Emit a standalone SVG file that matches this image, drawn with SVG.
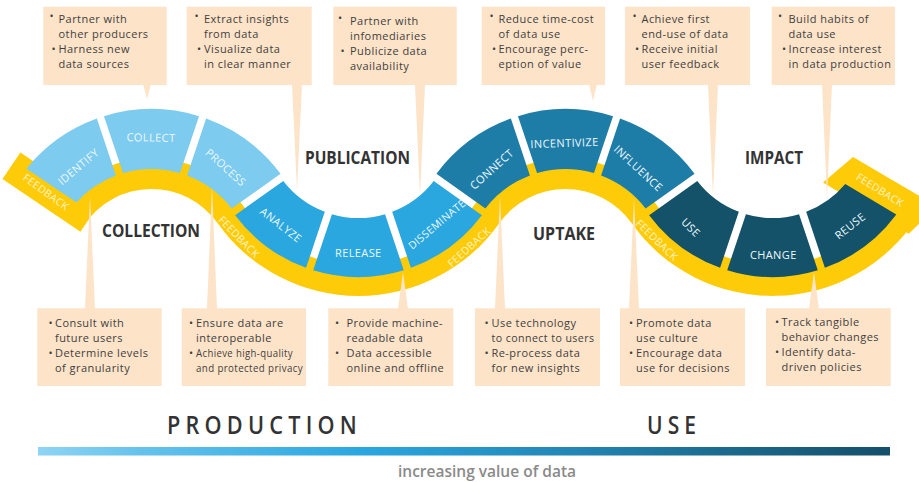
<svg xmlns="http://www.w3.org/2000/svg" width="919" height="482" viewBox="0 0 919 482">
<defs>
<style>
.yel{fill:#fecb08}
.sa{fill:#7dcbef}.sb{fill:#2aa7df}.sc{fill:#1e7da7}.sd{fill:#14526a}
.lbl{font-family:"Open Sans","Liberation Sans",sans-serif;font-size:11px;fill:#eef8fd;text-anchor:middle;letter-spacing:0.4px}
.fb{font-family:"Open Sans","Liberation Sans",sans-serif;font-size:10.5px;fill:#fff4c8;text-anchor:middle;letter-spacing:0.3px}
.box{fill:#fde3c8}
.bt{font-family:"Open Sans","Liberation Sans",sans-serif;font-size:11px;fill:#3f3f3f;letter-spacing:0.45px}
.stage{font-family:"Open Sans","Liberation Sans",sans-serif;font-weight:700;font-size:18.5px;fill:#333333;text-anchor:middle}
.big{font-family:"Open Sans","Liberation Sans",sans-serif;font-weight:600;font-size:25px;fill:#333333;text-anchor:middle;letter-spacing:6px}
.inc{font-family:"Open Sans","Liberation Sans",sans-serif;font-weight:600;font-size:15.5px;fill:#8a8a8a;text-anchor:middle}
</style>
<linearGradient id="bar" x1="0" y1="0" x2="1" y2="0">
<stop offset="0" stop-color="#8fd4f4"/>
<stop offset="0.12" stop-color="#66c2eb"/>
<stop offset="0.38" stop-color="#2aa7df"/>
<stop offset="0.62" stop-color="#2387b6"/>
<stop offset="0.82" stop-color="#1b688a"/>
<stop offset="1" stop-color="#154f69"/>
</linearGradient>
</defs>
<rect width="919" height="482" fill="#ffffff"/>

<g id="feedback-band">
<path class="yel" d="M84.35,224.70 A81,81 0 0 1 217.54,223.10 A172.88,172.88 0 0 0 499.45,223.10 A81,81 0 0 1 631.54,223.10 A172.88,172.88 0 0 0 917.5,217.15 L891.5,200.27 A141.88,141.88 0 0 1 656.81,205.15 A112,112 0 0 0 474.17,205.15 A141.88,141.88 0 0 1 242.81,205.15 A112,112 0 0 0 58.65,207.37 Z"/>
<polygon class="yel" points="20.37,152.57 2.48,179.10 80.43,231.63 98.32,205.10"/>
<polygon class="yel" points="823,182.4 853,157 936.88,206.25 908.79,233.72"/>
</g>

<g id="connectors" class="box">
<polygon points="143,84 151,84 147,99"/>
<polygon points="292,84 302,84 297,190"/>
<polygon points="415,84 425,84 420,196"/>
<polygon points="589,84 597,84 593,101"/>
<polygon points="708,84 718,84 713,196"/>
<polygon points="822,84 832,84 827,198"/>
<polygon points="85,309 95,309 90,196"/>
<polygon points="207,309 217,309 212,186"/>
<polygon points="398,309 408,309 403,272"/>
<polygon points="495,309 505,309 500,196"/>
<polygon points="629,309 639,309 634,198"/>
<polygon points="809,309 819,309 814,272"/>
</g>

<g id="feedback-labels">
<text class="fb" transform="translate(46,192) rotate(36)" y="3.8">FEEDBACK</text>
<text class="fb" transform="translate(239,237) rotate(46)" y="3.8">FEEDBACK</text>
<text class="fb" transform="translate(469,247) rotate(-42)" y="3.8">FEEDBACK</text>
<text class="fb" transform="translate(657,240) rotate(44)" y="3.8">FEEDBACK</text>
<text class="fb" transform="translate(880,190) rotate(32)" y="3.8">FEEDBACK</text>
</g>

<g id="identify"><path class="sa" d="M26.39,168.68 A161,161 0 0 1 96.87,118.55 L115.92,175.47 A101,101 0 0 0 76.45,202.42 Z"/><text class="lbl" transform="translate(78.3,166.7) rotate(-40)" y="4">IDENTIFY</text></g>
<g id="collect"><path class="sa" d="M103.97,116.16 A161,161 0 0 1 199.03,116.16 L179.97,173.10 A101,101 0 0 0 123.03,173.10 Z"/><text class="lbl" transform="translate(151,137.5) rotate(1)" y="4">COLLECT</text></g>
<g id="process"><path class="sa" d="M206.13,118.55 A161,161 0 0 1 280.57,173.75 L231.63,208.52 A101,101 0 0 0 187.08,175.47 Z"/><text class="lbl" transform="translate(225.8,167.5) rotate(42)" y="4">PROCESS</text></g>
<g id="analyze"><path class="sb" d="M283.26,181.01 A95,95 0 0 0 324.82,211.83 L306.09,267.81 A154,154 0 0 1 235.13,215.18 Z"/><text class="lbl" transform="translate(281,225) rotate(38)" y="4">ANALYZE</text></g>
<g id="release"><path class="sb" d="M331.94,214.21 A95,95 0 0 0 385.06,214.21 L403.79,270.19 A154,154 0 0 1 313.21,270.19 Z"/><text class="lbl" transform="translate(358.3,253.3)" y="4">RELEASE</text></g>
<g id="disseminate"><path class="sb" d="M392.18,211.83 A95,95 0 0 0 433.74,181.01 L481.87,215.18 A154,154 0 0 1 410.91,267.81 Z"/><text class="lbl" style="font-size:10.5px" transform="translate(436.7,224.2) rotate(-40)" y="4">DISSEMINATE</text></g>
<g id="connect"><path class="sc" d="M436.43,173.75 A161,161 0 0 1 510.87,118.55 L529.92,175.47 A101,101 0 0 0 485.37,208.52 Z"/><text class="lbl" transform="translate(491.7,169.2) rotate(-42)" y="4">CONNECT</text></g>
<g id="incentivize"><path class="sc" d="M517.97,116.16 A161,161 0 0 1 613.03,116.16 L593.97,173.10 A101,101 0 0 0 537.03,173.10 Z"/><text class="lbl" transform="translate(564.5,143) rotate(-2)" y="4">INCENTIVIZE</text></g>
<g id="influence"><path class="sc" d="M620.13,118.55 A161,161 0 0 1 694.57,173.75 L645.63,208.52 A101,101 0 0 0 601.08,175.47 Z"/><text class="lbl" transform="translate(638.3,168.3) rotate(43)" y="4">INFLUENCE</text></g>
<g id="use"><path class="sd" d="M697.26,181.01 A95,95 0 0 0 738.82,211.83 L720.09,267.81 A154,154 0 0 1 649.13,215.18 Z"/><text class="lbl" transform="translate(690.8,227.5) rotate(45)" y="4">USE</text></g>
<g id="change"><path class="sd" d="M745.94,214.21 A95,95 0 0 0 799.06,214.21 L817.79,270.19 A154,154 0 0 1 727.21,270.19 Z"/><text class="lbl" transform="translate(773.3,255)" y="4">CHANGE</text></g>
<g id="reuse"><path class="sd" d="M806.18,211.83 A95,95 0 0 0 845.27,184.07 L896.30,214.60 A154,154 0 0 1 824.91,267.81 Z"/><text class="lbl" transform="translate(850,226) rotate(-38)" y="4">REUSE</text></g>

<g id="stage-labels">
<text class="stage" x="151" y="237" textLength="98" lengthAdjust="spacingAndGlyphs">COLLECTION</text>
<text class="stage" x="357.5" y="163.5" textLength="105" lengthAdjust="spacingAndGlyphs">PUBLICATION</text>
<text class="stage" x="564" y="240" textLength="62" lengthAdjust="spacingAndGlyphs">UPTAKE</text>
<text class="stage" x="774" y="163.5" textLength="58" lengthAdjust="spacingAndGlyphs">IMPACT</text>
</g>

<g id="callout-collect">
<rect class="box" x="43.3" y="6.7" width="123.4" height="78.3"/>
<text class="bt"><tspan x="49.5" y="20">•</tspan><tspan x="58.5" y="23">Partner with</tspan><tspan x="58.5" y="38">other producers</tspan><tspan x="51.5" y="53">•</tspan><tspan x="58.5" y="53">Harness new</tspan><tspan x="58.5" y="68">data sources</tspan></text>
</g>
<g id="callout-analyze">
<rect class="box" x="186.7" y="6.7" width="125" height="78.3"/>
<text class="bt"><tspan x="194.5" y="20">•</tspan><tspan x="204" y="23">Extract insights</tspan><tspan x="204" y="38">from data</tspan><tspan x="197" y="53">•</tspan><tspan x="204" y="53">Visualize data</tspan><tspan x="204" y="68">in clear manner</tspan></text>
</g>
<g id="callout-disseminate">
<rect class="box" x="333.3" y="6.7" width="123.4" height="78.3"/>
<text class="bt"><tspan x="338" y="22">•</tspan><tspan x="350" y="25">Partner with</tspan><tspan x="350" y="40">infomediaries</tspan><tspan x="340.5" y="55">•</tspan><tspan x="350" y="55">Publicize data</tspan><tspan x="350" y="70">availability</tspan></text>
</g>
<g id="callout-incentivize">
<rect class="box" x="481.7" y="6.7" width="123.3" height="78.3"/>
<text class="bt"><tspan x="489.5" y="20">•</tspan><tspan x="498.5" y="23">Reduce time-cost</tspan><tspan x="498.5" y="38">of data use</tspan><tspan x="492" y="53">•</tspan><tspan x="498.5" y="53">Encourage perc-</tspan><tspan x="498.5" y="68">eption of value</tspan></text>
</g>
<g id="callout-use">
<rect class="box" x="625" y="6.7" width="125" height="78.3"/>
<text class="bt"><tspan x="632.5" y="20">•</tspan><tspan x="641.5" y="23">Achieve first</tspan><tspan x="641.5" y="38">end-use of data</tspan><tspan x="635" y="53">•</tspan><tspan x="641.5" y="53">Receive initial</tspan><tspan x="641.5" y="68">user feedback</tspan></text>
</g>
<g id="callout-reuse">
<rect class="box" x="771.7" y="6.7" width="123.3" height="78.3"/>
<text class="bt"><tspan x="778" y="20">•</tspan><tspan x="788.5" y="23">Build habits of</tspan><tspan x="788.5" y="38">data use</tspan><tspan x="782" y="53">•</tspan><tspan x="788.5" y="53">Increase interest</tspan><tspan x="788.5" y="68">in data production</tspan></text>
</g>

<g id="callout-identify">
<rect class="box" x="37.3" y="308.3" width="124.4" height="77.7"/>
<text class="bt"><tspan x="48.5" y="326.5">•</tspan><tspan x="55" y="326.5">Consult with</tspan><tspan x="55" y="341.5">future users</tspan><tspan x="48.5" y="356.5">•</tspan><tspan x="55" y="356.5">Determine levels</tspan><tspan x="55" y="371.5">of granularity</tspan></text>
</g>
<g id="callout-process">
<rect class="box" x="181.7" y="308.3" width="124.3" height="77.7"/>
<text class="bt"><tspan x="189" y="326.5">•</tspan><tspan x="196" y="326.5">Ensure data are</tspan><tspan x="196" y="341.5">interoperable</tspan><tspan x="189" y="356.5">•</tspan></text>
<text class="bt" x="196" y="356.5" textLength="97" lengthAdjust="spacingAndGlyphs">Achieve high-quality</text>
<text class="bt" x="196" y="371.5" textLength="107" lengthAdjust="spacingAndGlyphs">and protected privacy</text>
</g>
<g id="callout-release">
<rect class="box" x="328.3" y="308.3" width="125" height="77.7"/>
<text class="bt"><tspan x="335" y="326.5">•</tspan><tspan x="346.5" y="326.5">Provide machine-</tspan><tspan x="346.5" y="341.5">readable data</tspan><tspan x="335" y="356.5">•</tspan><tspan x="346.5" y="356.5">Data accessible</tspan><tspan x="346.5" y="371.5">online and offline</tspan></text>
</g>
<g id="callout-connect">
<rect class="box" x="475" y="308.3" width="125" height="77.7"/>
<text class="bt"><tspan x="484.5" y="326.5">•</tspan><tspan x="491.5" y="326.5">Use technology</tspan><tspan x="491.5" y="341.5" textLength="103" lengthAdjust="spacingAndGlyphs">to connect to users</tspan><tspan x="484.5" y="356.5">•</tspan><tspan x="491.5" y="356.5">Re-process data</tspan><tspan x="491.5" y="371.5">for new insights</tspan></text>
</g>
<g id="callout-influence">
<rect class="box" x="620" y="308.3" width="125" height="77.7"/>
<text class="bt"><tspan x="629" y="326.5">•</tspan><tspan x="636" y="326.5">Promote data</tspan><tspan x="636" y="341.5">use culture</tspan><tspan x="629" y="356.5">•</tspan><tspan x="636" y="356.5">Encourage data</tspan><tspan x="636" y="371.5">use for decisions</tspan></text>
</g>
<g id="callout-change">
<rect class="box" x="766" y="308.3" width="124.7" height="77.7"/>
<text class="bt"><tspan x="775" y="326">•</tspan><tspan x="781.5" y="326">Track tangible</tspan><tspan x="781.5" y="341">behavior changes</tspan><tspan x="775" y="356">•</tspan><tspan x="781.5" y="356">Identify data-</tspan><tspan x="781.5" y="371">driven policies</tspan></text>
</g>

<g id="value-scale">
<text class="big" x="264.5" y="434" textLength="195" lengthAdjust="spacingAndGlyphs">PRODUCTION</text>
<text class="big" x="674" y="434" textLength="54" lengthAdjust="spacingAndGlyphs">USE</text>
<rect x="38" y="447" width="852" height="8.5" fill="url(#bar)"/>
<text class="inc" x="487" y="477">increasing value of data</text>
</g>
</svg>
